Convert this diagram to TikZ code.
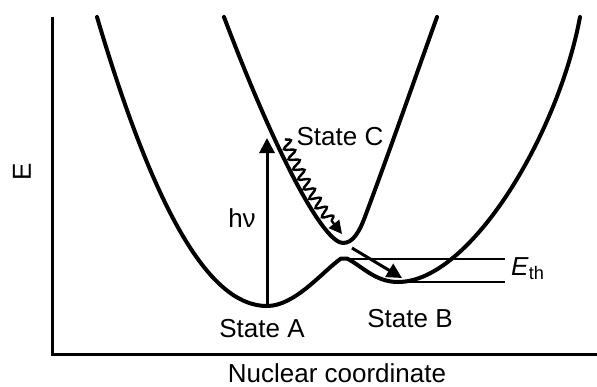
\documentclass[tikz,border=0pt]{standalone}
\usepackage{fontspec}
\setmainfont{Liberation Sans}
\usetikzlibrary{arrows.meta,decorations.pathmorphing}
\begin{document}
\begin{tikzpicture}[x=1bp,y=-1bp,
  curve/.style={line width=4bp, line join=round, line cap=round},
  axis/.style={line width=3bp},
  level/.style={line width=2bp},
  arr/.style={line width=3bp, -{Triangle[length=15bp,width=15bp]}},
  wavy/.style={line width=2.4bp, -{Triangle[length=13bp,width=13bp]}, decorate,
    decoration={snake, amplitude=5bp, segment length=11bp, post length=13bp}},
  lbl/.style={font=\fontsize{26bp}{30bp}\selectfont, inner sep=0pt, anchor=base}]
\useasboundingbox (0,0) rectangle (597,386);
% axes
\coordinate (ytop) at (52,17);
\coordinate (origin) at (52,354);
\coordinate (xend) at (597,354);
\draw[axis] (ytop) -- (origin) -- (xend);
% key points
\coordinate (minA) at (267,306);
\coordinate (cuspL) at (341,258.5);
\coordinate (cuspR) at (347,258.5);
\coordinate (minB) at (398,282);
\coordinate (minC) at (343,243);
% ground-state double well
\draw[curve] (97,17) .. controls (160,230) and (215,306) .. (minA)
  .. controls (295,306) and (322,272) .. (cuspL) -- (cuspR)
  .. controls (362,266) and (375,282) .. (minB)
  .. controls (470,282) and (558,135) .. (580,17);
% excited state C
\draw[curve] (224,17) .. controls (280,165) and (325,243) .. (minC)
  .. controls (353,243) and (359.5,232) .. (366,214)
  .. controls (390,150) and (420,64) .. (437,17);
% threshold levels
\coordinate (thEnd) at (505,258.5);
\coordinate (bEnd) at (505,282);
\draw[level] (cuspR) -- (thEnd);
\draw[level] (minB) -- (bEnd);
% arrows
\coordinate (hvTop) at (267,138);
\draw[arr] (minA) -- (hvTop);
\coordinate (wS) at (285,139);
\coordinate (wE) at (342,234);
\draw[wavy] (wS) to[bend right=8] (wE);
\coordinate (sS) at (352,248);
\coordinate (sE) at (402,278);
\draw[arr] (sS) -- (sE);
% labels
\node[lbl, rotate=90, anchor=center] (Elab) at (22,172) {E};
\node[lbl] (nuc) at (337,382) {Nuclear coordinate};
\node[lbl] (sA) at (262,337) {State A};
\node[lbl] (sB) at (410,327) {State B};
\node[lbl] (sC) at (340,145) {State C};
\node[lbl] (hv) at (242,227) {hν};
\node[lbl, anchor=base west] (eth) at (511,275) {\textit{E}\textsubscript{th}};
\end{tikzpicture}
\end{document}
